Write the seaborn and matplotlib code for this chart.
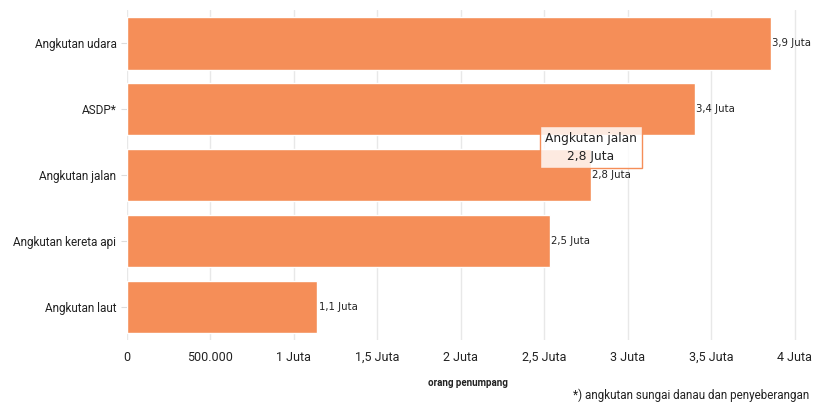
import matplotlib
matplotlib.use("Agg")
import matplotlib.pyplot as plt
import seaborn as sns
import pandas as pd

categories = ["Angkutan udara", "ASDP*", "Angkutan jalan", "Angkutan kereta api", "Angkutan laut"]
values = [3856000, 3400000, 2780000, 2535000, 1140000]
value_labels = ["3,9 Juta", "3,4 Juta", "2,8 Juta", "2,5 Juta", "1,1 Juta"]
tick_values = [0, 500000, 1000000, 1500000, 2000000, 2500000, 3000000, 3500000, 4000000]
tick_labels = ["0", "500.000", "1 Juta", "1,5 Juta", "2 Juta", "2,5 Juta", "3 Juta", "3,5 Juta", "4 Juta"]

sns.set_theme(style="white")
plt.rcParams['font.family'] = ['Roboto', 'DejaVu Sans']

df = pd.DataFrame({"kategori": categories, "nilai": values})

fig = plt.figure(figsize=(8.13, 4.08), dpi=100)
ax = fig.add_axes([0.156, 0.167, 0.84, 0.808])
sns.barplot(data=df, y="kategori", x="nilai", color="#F58E58", saturation=1,
            width=0.8, ax=ax, orient="h", zorder=3)

ax.set_xlim(0, 4090000)
ax.set_ylim(4.5, -0.5)
ax.set_xticks(tick_values)
ax.set_xticklabels(tick_labels, fontsize=9, color="#222222")
ax.tick_params(axis="x", length=0, pad=8)
ax.tick_params(axis="y", length=4, color="#dddddd", width=0.8, labelsize=8.5, labelcolor="#222222", left=True)
ax.grid(axis="x", color="#e8e8e8", linewidth=1, zorder=0)
ax.grid(axis="y", visible=False)
for s in ax.spines.values():
    s.set_visible(False)
ax.set_ylabel("")
ax.set_xlabel("orang penumpang", fontsize=7, fontweight="bold", color="#222222", labelpad=10)

for i, (v, lab) in enumerate(zip(values, value_labels)):
    ax.text(v + 8000, i, lab, va="center", ha="left", fontsize=7.3, color="#222222",
            family="DejaVu Sans", zorder=5)

# tooltip
ax.annotate("Angkutan jalan\n2,8 Juta", xy=(values[2], 1.9), xytext=(values[2], 1.58),
            ha="center", va="center", fontsize=8.8, family="DejaVu Sans", color="#222222",
            linespacing=1.5,
            bbox=dict(boxstyle="square,pad=0.45", fc=(1, 1, 1, 0.82), ec="#F58E58", lw=1),
            zorder=6)

fig.text(0.995, 0.015, "*) angkutan sungai danau dan penyeberangan", ha="right", va="bottom",
         fontsize=8.4, color="#222222")

fig.savefig("out.png", dpi=100)
